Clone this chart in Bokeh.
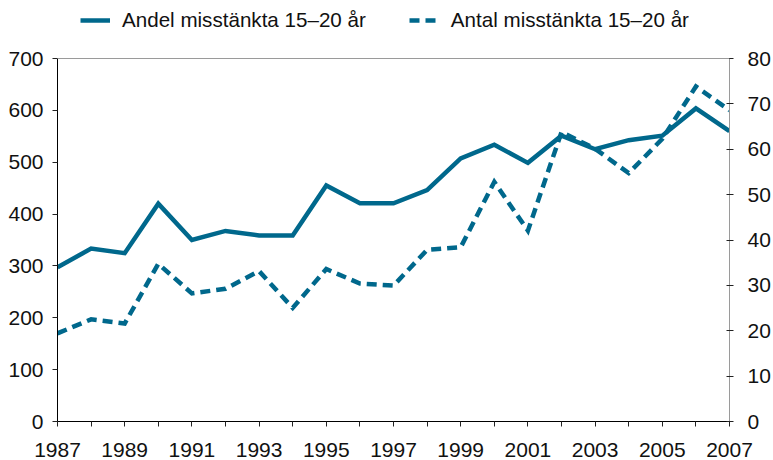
from bokeh.plotting import figure
from bokeh.models import (Range1d, LinearAxis, FixedTicker, Legend, LegendItem, Span)
from bokeh.embed import file_html
from bokeh.resources import INLINE

# ---- data ----
years = list(range(1987, 2008))
andel = [34.0, 38.1, 37.1, 48.0, 40.0, 42.0, 41.0, 41.0, 52.0, 48.1, 48.1,
         51.0, 58.0, 61.0, 57.0, 63.0, 60.0, 62.0, 63.0, 69.0, 64.0]
antal = [170, 197, 189, 304, 247, 256, 290, 219, 294, 266, 262,
         331, 336, 462, 368, 558, 526, 479, 545, 646, 600]
series_names = ["Andel misstänkta 15–20 år", "Antal misstänkta 15–20 år"]
x_ticks = years
x_tick_labels = [str(y) if (y - 1987) % 2 == 0 else "" for y in years]
left_ticks = [0, 100, 200, 300, 400, 500, 600, 700]
right_ticks = [0, 10, 20, 30, 40, 50, 60, 70, 80]
left_max, right_max = 700, 80

COLOR = "#00688C"
FONT = "Liberation Sans"
FS = "21px"

# layout (pixels)
W, H = 773, 460
BORDER_L, BORDER_R, BORDER_B = 57, 44, 39
PLOT_TOP = 58                      # where the 700 / 80 line sits
FRAME_H = H - BORDER_B             # frame runs from the top of the canvas
ext = FRAME_H / (FRAME_H - PLOT_TOP)

p = figure(width=W, height=H, output_backend="svg", toolbar_location=None,
           x_range=Range1d(1987, 2007), y_range=Range1d(0, left_max * ext),
           min_border_left=BORDER_L, min_border_right=BORDER_R, min_border_top=0,
           min_border_bottom=BORDER_B, outline_line_color=None)
p.extra_y_ranges = {"right": Range1d(0, right_max * ext)}
p.xgrid.visible = False
p.ygrid.visible = False

ya = p.yaxis[0]
ya.ticker = FixedTicker(ticks=left_ticks)
ya.bounds = (0, left_max)
ya.axis_line_color = "black"
ya.major_tick_line_color = "#222222"
ya.major_tick_in = 0
ya.major_tick_out = 5
ya.minor_tick_line_color = None
ya.major_label_standoff = 9
ya.major_label_text_font = FONT
ya.major_label_text_font_size = FS
ya.major_label_text_color = "#111111"

xa = p.xaxis[0]
xa.ticker = FixedTicker(ticks=x_ticks)
xa.major_label_overrides = {y: l for y, l in zip(x_ticks, x_tick_labels)}
xa.axis_line_color = "black"
xa.major_tick_line_color = "#222222"
xa.major_tick_in = 0
xa.major_tick_out = 5
xa.minor_tick_line_color = None
xa.major_label_standoff = 16
xa.major_label_text_font = FONT
xa.major_label_text_font_size = FS
xa.major_label_text_line_height = 0.8
xa.major_label_text_color = "#111111"

ra = LinearAxis(y_range_name="right", ticker=FixedTicker(ticks=right_ticks))
ra.bounds = (0, right_max)
ra.axis_line_color = "#9a9a9a"
ra.major_tick_line_color = "#222222"
ra.major_tick_in = 3
ra.major_tick_out = 4
ra.minor_tick_line_color = None
ra.major_label_standoff = 14
ra.major_label_text_font = FONT
ra.major_label_text_font_size = FS
ra.major_label_text_color = "#111111"
p.add_layout(ra, "right")

# top border of the plotting area
p.add_layout(Span(location=left_max, dimension="width",
                  line_color="#9a9a9a", line_width=1))

r1 = p.line(years, andel, y_range_name="right", line_color=COLOR,
            line_width=4.5, line_join="miter")
r2 = p.line(years, antal, line_color=COLOR, line_width=4.5,
            line_dash="10 6", line_join="miter")

legend = Legend(items=[LegendItem(label=series_names[0], renderers=[r1]),
                       LegendItem(label=series_names[1], renderers=[r2])],
                orientation="horizontal",
                location=(80 - BORDER_L, FRAME_H - 8 - 24),
                glyph_width=30, glyph_height=20, label_standoff=12,
                spacing=43, padding=0, margin=0,
                border_line_color=None, background_fill_alpha=0,
                label_text_font=FONT, label_text_font_size="20.6px",
                label_text_color="#111111")
p.add_layout(legend, "center")

open("out.html", "w").write(file_html(p, INLINE))
